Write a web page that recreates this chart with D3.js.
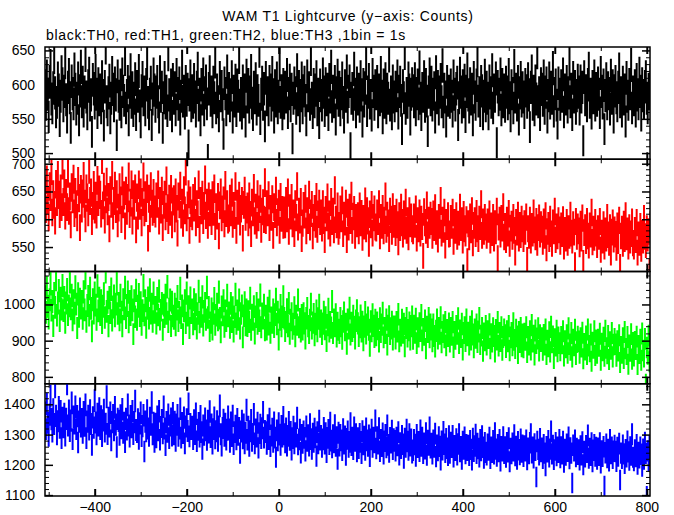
<!DOCTYPE html>
<html><head><meta charset="utf-8">
<script src="https://cdn.jsdelivr.net/npm/d3@7"></script>
<style>
body{margin:0;background:#fff}
svg{display:block}
text{font-family:"Liberation Sans",Arial,Helvetica,sans-serif;fill:#000}
</style>
</head><body>
<svg id="chart" width="674" height="515"></svg>
<script>
// ---- data ----
const titleText = "WAM T1 Lightcurve (y\u2212axis: Counts)";
const subtitleText = "black:TH0, red:TH1, green:TH2, blue:TH3 ,1bin = 1s";
const timeStart = -508;   // first bin time (s)
const binStep = 2;        // seconds between listed samples
const timeDomain = [-508, 807];
const xMajorTicks = [-400, -200, 0, 200, 400, 600, 800];
const xMinorTicks = [-500, -300, -100, 100, 300, 500, 700];

const th0 = [
598,571,612,586,553,604,627,579,566,595,641,588,560,574,609,592,547,583,618,601,
569,590,633,578,552,596,614,581,537,605,587,572,622,593,564,580,609,548,591,626,
575,603,561,589,644,582,557,598,616,570,585,531,607,594,573,620,586,559,601,578,
592,566,611,584,540,597,655,575,563,588,606,551,580,617,593,569,602,585,526,612,
583,571,599,560,615,590,577,638,566,584,604,548,589,621,574,595,562,580,608,556,
597,583,620,569,545,591,610,578,589,563,600,632,574,557,586,603,541,579,615,592,
568,589,604,575,552,618,583,596,537,581,610,573,590,562,645,585,571,599,554,607,
580,595,563,614,587,571,602,549,583,626,576,590,558,604,577,593,512,585,612,569,
591,574,607,582,561,596,623,570,586,548,600,579,615,563,588,605,572,491,594,618,
577,589,560,603,581,634,566,592,575,554,610,584,597,571,528,602,587,563,619,580,
594,569,585,611,552,590,576,606,562,599,583,641,570,587,558,605,575,592,546,613,
582,600,567,589,620,573,556,596,581,608,564,591,577,650,550,586,603,571,594,539,
610,578,588,563,604,592,570,617,585,552,598,576,609,566,583,630,574,591,557,600,
573,596,582,614,559,587,606,569,593,521,580,602,588,565,621,578,597,554,584,609,
566,591,603,577,548,612,584,595,571,638,580,559,600,575,592,611,563,586,544,599,
584,570,615,589,562,601,578,593,556,607,582,626,568,590,575,604,549,588,613,577,
596,563,587,609,574,552,598,583,619,567,590,605,508,580,594,571,623,586,560,602,
579,593,568,611,585,546,600,576,595,632,562,589,607,573,584,555,614,590,571,598,
587,604,560,592,578,617,583,551,599,574,608,566,593,580,643,570,589,557,605,582,
569,596,584,612,558,590,603,577,535,598,581,647,565,587,574,609,592,549,586,601,
591,575,608,563,587,599,572,625,580,556,594,583,611,568,600,576,532,589,615,578,
603,570,586,595,552,618,581,597,564,589,607,575,628,560,593,582,546,604,577,590,
574,599,583,561,612,586,570,594,603,541,581,616,589,567,598,575,606,553,590,622,
585,567,601,579,593,548,610,582,571,599,636,576,588,562,604,591,557,583,613,569,
596,580,557,605,588,574,621,566,592,583,609,515,597,578,586,615,563,600,575,592,
568,603,589,572,614,581,554,598,587,566,627,582,593,570,604,549,588,610,576,595,
582,559,600,591,574,608,585,538,596,619,571,590,563,605,579,648,575,588,556,601,
593,577,612,565,589,602,552,584,609,573,596,580,624,561,587,599,570,543,602,586,
571,598,583,615,560,592,579,604,567,588,631,575,593,556,610,582,597,565,584,606,
589,564,605,582,596,518,611,578,591,569,600,623,574,586,558,597,581,612,570,594,
577,602,586,559,617,590,573,599,535,584,608,572,595,587,564,613,580,598,552,591,
604,581,569,596,622,575,588,561,603,579,592,546,610,583,571,600,587,629,566,589,
578,598,561,607,585,572,616,590,555,601,584,573,597,611,580,566,593,587,604,571
];

const th1 = [
652,618,671,634,603,659,640,688,612,645,626,597,663,631,679,644,609,655,622,698,
631,664,606,647,622,683,615,641,590,657,636,672,611,649,627,603,668,638,585,654,
619,646,677,628,601,655,639,612,690,633,648,596,624,661,617,642,608,670,631,653,
644,610,708,625,658,599,636,667,614,640,583,652,628,679,606,633,660,618,645,592,
621,657,634,600,669,627,643,588,651,615,638,676,609,630,662,597,645,624,655,581,
639,606,662,624,648,594,631,676,612,643,620,655,566,637,601,659,628,613,647,618,
610,641,628,662,597,633,617,651,585,626,644,605,669,620,598,637,613,654,590,632,
636,601,648,619,575,641,627,660,608,630,593,652,616,687,603,625,645,580,634,611,
605,638,621,650,594,627,609,662,582,633,616,644,598,624,671,607,630,589,641,612,
629,596,643,613,655,587,622,606,640,570,625,648,603,618,634,592,661,611,627,599,
602,637,612,648,591,624,607,659,580,628,615,642,595,619,633,566,626,651,604,617,
623,594,641,608,574,630,612,656,597,621,589,645,603,618,637,582,614,629,600,666,
598,627,612,643,585,619,604,636,571,622,609,651,594,613,628,580,640,602,617,589,
616,590,633,601,648,578,620,606,638,592,611,574,627,603,659,586,614,599,631,565,
593,624,608,637,579,615,598,644,586,611,626,570,603,619,591,640,582,609,628,596,
611,584,627,598,563,617,603,639,588,609,575,631,596,614,581,652,600,590,623,578,
589,618,601,634,574,607,595,628,563,612,586,621,598,642,580,605,617,571,603,592,
606,579,623,594,610,567,601,588,632,583,615,597,556,609,590,626,575,603,618,586,
584,611,596,627,570,603,589,619,579,598,641,582,607,593,565,614,600,578,622,591,
601,576,612,590,559,606,585,621,594,573,609,588,630,580,597,568,615,592,604,583,
579,604,591,618,566,597,583,611,575,600,587,534,613,594,580,625,572,598,589,607,
596,571,609,585,620,578,592,564,603,589,633,575,598,582,612,553,594,587,606,573,
574,601,589,612,560,594,580,606,569,591,577,621,585,597,562,608,583,575,599,525,
592,568,604,581,615,557,589,597,574,610,583,565,600,587,627,571,595,578,603,586,
571,595,582,609,562,588,576,603,566,592,579,614,530,586,598,573,601,584,622,568,
587,563,598,575,610,556,584,591,569,603,580,540,594,577,607,566,589,572,600,583,
565,592,578,604,527,583,571,598,562,587,575,611,581,568,596,558,585,602,573,590,
582,560,595,571,606,548,578,589,565,600,574,556,593,579,614,563,586,570,597,581,
560,588,574,599,551,580,566,594,558,583,571,607,575,562,590,577,518,596,569,586,
579,555,591,566,602,522,576,585,561,596,570,553,588,573,612,559,582,567,594,575,
554,583,569,596,545,575,562,590,551,579,566,603,572,558,585,540,577,593,564,581,
573,549,588,561,598,515,570,582,556,591,565,606,568,579,551,585,562,574,595,557,
551,580,563,594,540,572,558,587,547,575,562,601,569,554,583,566,578,506,590,571
];

const th2 = [
1021,978,1046,995,962,1013,1057,984,1008,941,1030,992,1069,970,1004,1038,955,1017,987,1052,
983,1019,950,1004,1041,972,996,1063,988,1025,957,1010,976,1048,1001,935,1029,967,1014,990,
1008,961,1035,985,1074,953,997,1022,970,1044,989,926,1013,976,1031,998,958,1051,982,1017,
972,1010,949,995,1029,964,1091,981,1006,940,1019,977,1042,956,993,1023,968,1001,1057,975,
1003,957,1025,979,940,1013,988,1047,963,997,1034,951,1008,972,1021,985,918,1010,966,1039,
958,995,1027,969,1005,944,983,1052,971,1010,936,989,1018,962,1040,976,1001,953,1031,978,
992,948,1016,971,1037,959,984,1003,930,998,966,1025,975,1049,952,987,1012,941,1006,968,
961,1001,943,987,1022,955,978,1044,963,996,918,982,1010,949,1031,970,994,935,1018,977,
985,946,1013,960,999,934,975,1036,951,990,967,1021,942,981,1003,958,1047,964,992,927,
950,988,931,975,1016,944,970,1001,957,1034,962,923,993,971,1010,939,982,955,1025,968,
977,936,1003,952,991,925,966,1028,947,982,958,1012,934,975,996,909,969,1005,943,985,
941,980,952,1017,930,971,958,994,920,966,1003,947,985,955,1026,937,974,962,998,929,
968,931,990,945,1009,922,963,950,985,938,972,1014,946,979,903,958,997,940,966,1021,
962,927,951,986,940,1003,919,957,975,933,946,991,912,968,944,1012,937,959,925,970,
931,975,948,906,962,989,940,921,957,1001,934,950,973,915,946,982,926,961,998,939,
955,918,947,979,932,964,899,943,987,925,951,936,1008,921,958,940,972,911,949,930,
921,962,940,905,953,977,929,946,891,958,934,990,917,949,927,968,938,906,955,983,
948,913,937,969,925,952,901,939,978,920,944,963,930,885,953,926,972,941,910,957,
915,950,932,897,961,924,944,976,909,935,921,958,889,941,967,918,934,952,903,939,
939,906,951,925,973,898,930,914,957,922,946,884,935,962,911,929,950,903,940,966,
905,941,922,960,893,934,911,948,927,970,901,932,916,955,878,938,924,962,909,944,
931,898,944,913,883,927,958,906,935,919,964,895,924,942,909,951,887,929,913,947,
897,935,916,951,882,924,905,940,919,961,893,928,910,946,875,921,937,899,958,915,
922,889,938,903,953,917,881,931,908,944,896,925,962,890,914,935,871,920,901,940,
889,926,907,945,878,918,897,934,913,869,929,903,951,886,921,899,937,874,910,931,
915,882,926,898,940,873,909,921,887,948,902,879,930,912,865,924,896,935,884,917,
881,919,902,937,868,910,889,926,875,943,897,914,861,928,893,906,934,872,915,899,
907,874,916,889,931,862,900,884,923,869,938,895,912,851,904,886,927,870,909,893,
873,910,892,926,858,899,881,915,866,934,890,874,921,855,903,887,930,862,896,911,
898,866,907,883,922,850,891,875,912,862,931,886,870,917,843,895,880,926,859,901,
866,903,885,919,846,892,873,908,857,927,880,864,913,848,896,877,921,855,889,905,
890,857,899,872,915,840,883,866,907,851,924,878,862,910,835,887,871,918,849,894,
858,897,876,911,834,886,865,903,846,920,873,855,905,781,881,863,914,842,889,870
];

const th3 = [
1372,1318,1401,1339,1296,1366,1427,1351,1310,1383,1335,1458,1362,1301,1344,1390,1323,1377,1288,1355,
1324,1368,1297,1352,1468,1330,1379,1312,1346,1405,1285,1359,1337,1392,1318,1361,1274,1343,1385,1327,
1351,1306,1374,1329,1398,1288,1343,1362,1317,1380,1335,1266,1357,1323,1412,1340,1301,1368,1330,1386,
1318,1360,1295,1347,1381,1310,1336,1425,1302,1355,1327,1372,1281,1341,1364,1314,1390,1333,1259,1352,
1345,1299,1363,1321,1384,1306,1339,1275,1352,1317,1398,1330,1293,1361,1324,1377,1302,1341,1411,1315,
1308,1350,1286,1337,1372,1295,1328,1364,1244,1343,1311,1380,1320,1296,1355,1333,1406,1301,1339,1276,
1336,1291,1359,1314,1377,1283,1325,1348,1304,1392,1320,1265,1341,1309,1366,1288,1330,1353,1297,1371,
1301,1342,1279,1333,1364,1296,1320,1385,1290,1338,1305,1356,1271,1327,1350,1312,1402,1294,1335,1318,
1326,1285,1347,1302,1369,1278,1316,1338,1293,1361,1308,1252,1330,1299,1353,1314,1282,1345,1307,1376,
1292,1333,1270,1318,1356,1287,1311,1344,1279,1327,1395,1301,1263,1322,1349,1296,1336,1283,1316,1359,
1317,1276,1340,1295,1362,1268,1308,1329,1284,1351,1299,1322,1239,1310,1345,1287,1333,1271,1306,1381,
1283,1326,1262,1311,1348,1279,1302,1367,1271,1317,1293,1339,1256,1305,1332,1288,1321,1374,1290,1312,
1308,1269,1331,1285,1352,1261,1297,1319,1276,1340,1290,1225,1314,1281,1337,1300,1266,1328,1293,1358,
1301,1274,1320,1263,1296,1341,1282,1309,1250,1288,1326,1271,1305,1293,1355,1267,1284,1316,1240,1299,
1272,1310,1289,1246,1327,1279,1298,1263,1334,1285,1252,1303,1276,1319,1291,1229,1308,1271,1345,1283,
1296,1259,1284,1322,1270,1305,1241,1289,1315,1268,1339,1280,1257,1298,1274,1331,1262,1292,1219,1306,
1263,1299,1281,1248,1318,1270,1294,1232,1286,1310,1259,1276,1337,1265,1290,1251,1323,1279,1301,1244,
1288,1255,1302,1276,1238,1311,1267,1293,1249,1320,1281,1262,1297,1228,1284,1316,1259,1290,1274,1346,
1254,1292,1270,1321,1245,1283,1261,1304,1236,1278,1299,1257,1330,1266,1242,1289,1273,1313,1251,1285,
1279,1246,1290,1264,1308,1233,1272,1255,1296,1268,1222,1287,1259,1316,1277,1249,1301,1263,1284,1240,
1248,1283,1267,1229,1299,1258,1276,1245,1314,1262,1290,1238,1271,1253,1305,1232,1280,1266,1323,1256,
1270,1236,1281,1259,1303,1227,1265,1247,1292,1261,1216,1278,1250,1309,1268,1241,1286,1255,1231,1295,
1239,1274,1258,1296,1226,1263,1248,1285,1233,1269,1301,1244,1260,1219,1277,1252,1291,1237,1266,1248,
1264,1231,1279,1251,1216,1287,1245,1262,1300,1238,1270,1254,1226,1283,1247,1295,1258,1222,1273,1241,
1233,1268,1249,1290,1221,1258,1241,1279,1236,1305,1252,1229,1266,1244,1283,1213,1260,1246,1292,1238,
1259,1225,1273,1243,1288,1210,1254,1237,1271,1246,1298,1230,1261,1219,1276,1250,1234,1284,1242,1265,
1228,1262,1246,1281,1217,1255,1237,1273,1301,1240,1258,1223,1269,1248,1160,1277,1251,1233,1286,1244,
1255,1221,1266,1239,1197,1260,1243,1279,1226,1252,1310,1236,1264,1218,1249,1273,1230,1258,1241,1283,
1224,1259,1236,1277,1209,1251,1232,1268,1245,1291,1220,1256,1239,1140,1265,1246,1281,1227,1254,1235,
1249,1216,1262,1233,1275,1200,1244,1226,1263,1241,1297,1222,1254,1231,1272,1210,1248,1266,1229,1257,
1219,1255,1231,1272,1206,1246,1228,1260,1130,1240,1268,1224,1251,1213,1283,1237,1258,1221,1245,1264,
1244,1211,1257,1229,1270,1150,1239,1221,1265,1236,1204,1250,1226,1278,1243,1215,1259,1232,1301,1225,
1214,1249,1227,1266,1202,1241,1223,1258,1235,1195,1252,1219,1274,1238,1097,1246,1213,1262,1229,1251
];

const seriesColors = ["#000000", "#ff0000", "#00ff00", "#0000ff"];
const yMajorTicks = [[500,550,600,650],[550,600,650,700],[800,900,1000],[1100,1200,1300,1400]];
const yMinorStep = [10, 10, 20, 20];

// ---- layout ----
(function () {
const svg = d3.select("#chart");
const plotL = 45, plotR = 650, plotT = 47, plotB = 496;
const nPanels = 4;
const panelH = (plotB - plotT) / nPanels;
const x = d3.scaleLinear().domain(timeDomain).range([plotL, plotR]);
const allSeries = [th0, th1, th2, th3];
const fontFam = '"Liberation Sans",Arial,Helvetica,sans-serif';

svg.append("text").attr("x", 348).attr("y", 21).attr("text-anchor", "middle")
  .style("font-size", "14px").style("letter-spacing", "0.7px").text(titleText);
svg.append("text").attr("x", 46).attr("y", 39.5)
  .style("font-size", "14px").style("letter-spacing", "0.7px").text(subtitleText);

const defs = svg.append("defs");

allSeries.forEach((vals, p) => {
  const y0 = plotT + p * panelH, y1 = y0 + panelH;
  const y = d3.scaleLinear().domain(d3.extent(vals)).range([y1, y0]);
  const g = svg.append("g");

  defs.append("clipPath").attr("id", "clip" + p)
    .append("rect").attr("x", plotL).attr("y", y0).attr("width", plotR - plotL).attr("height", panelH);

  // each bin: counts with Poisson error bar (vertical) and bin-width bar (horizontal)
  const pth = d3.path();
  vals.forEach((v, i) => {
    const t = timeStart + i * binStep;
    const e = Math.sqrt(v);
    const xc = x(t);
    pth.moveTo(xc, y(v + e)); pth.lineTo(xc, y(v - e));
    pth.moveTo(x(t - binStep / 2), y(v)); pth.lineTo(x(t + binStep / 2), y(v));
  });
  g.append("path").attr("clip-path", "url(#clip" + p + ")")
    .attr("d", pth.toString()).attr("fill", "none").attr("stroke", seriesColors[p])
    .attr("stroke-width", 2);

  const [lo, hi] = y.domain();
  const minor = d3.range(Math.ceil(lo / yMinorStep[p]) * yMinorStep[p], hi + 0.001, yMinorStep[p])
    .filter(v => !yMajorTicks[p].includes(v));
  const yl = g.append("g").attr("transform", `translate(${plotL},0)`)
    .call(d3.axisLeft(y).tickValues(yMajorTicks[p]).tickSize(-8).tickPadding(10).tickFormat(d3.format("d")));
  yl.selectAll("line").attr("stroke-width", 1.5);
  yl.selectAll("text").style("font-size", "14px").style("font-family", fontFam);
  g.append("g").attr("transform", `translate(${plotL},0)`)
    .call(d3.axisLeft(y).tickValues(minor).tickSize(-4).tickFormat(""));
  const yr = g.append("g").attr("transform", `translate(${plotR},0)`)
    .call(d3.axisRight(y).tickValues(yMajorTicks[p]).tickSize(-8).tickFormat(""));
  yr.selectAll("line").attr("stroke-width", 1.5);
  g.append("g").attr("transform", `translate(${plotR},0)`)
    .call(d3.axisRight(y).tickValues(minor).tickSize(-4).tickFormat(""));

  const xb = g.append("g").attr("transform", `translate(0,${y1})`)
    .call(d3.axisBottom(x).tickValues(xMajorTicks).tickSize(-7).tickPadding(6)
      .tickFormat(p === nPanels - 1 ? d3.format("d") : ""));
  xb.selectAll("line").attr("stroke-width", 2);
  xb.selectAll("text").style("font-size", "14px").style("font-family", fontFam);
  g.append("g").attr("transform", `translate(0,${y1})`)
    .call(d3.axisBottom(x).tickValues(xMinorTicks).tickSize(-4).tickFormat(""));
  const xt = g.append("g").attr("transform", `translate(0,${y0})`)
    .call(d3.axisTop(x).tickValues(xMajorTicks).tickSize(-7).tickFormat(""));
  xt.selectAll("line").attr("stroke-width", 2);
  g.append("g").attr("transform", `translate(0,${y0})`)
    .call(d3.axisTop(x).tickValues(xMinorTicks).tickSize(-4).tickFormat(""));

  g.selectAll(".domain").remove();

  g.append("rect").attr("x", plotL).attr("y", y0).attr("width", plotR - plotL).attr("height", panelH)
    .attr("fill", "none").attr("stroke", "#000").attr("stroke-width", 1.5);
});
})();
</script>
</body></html>
